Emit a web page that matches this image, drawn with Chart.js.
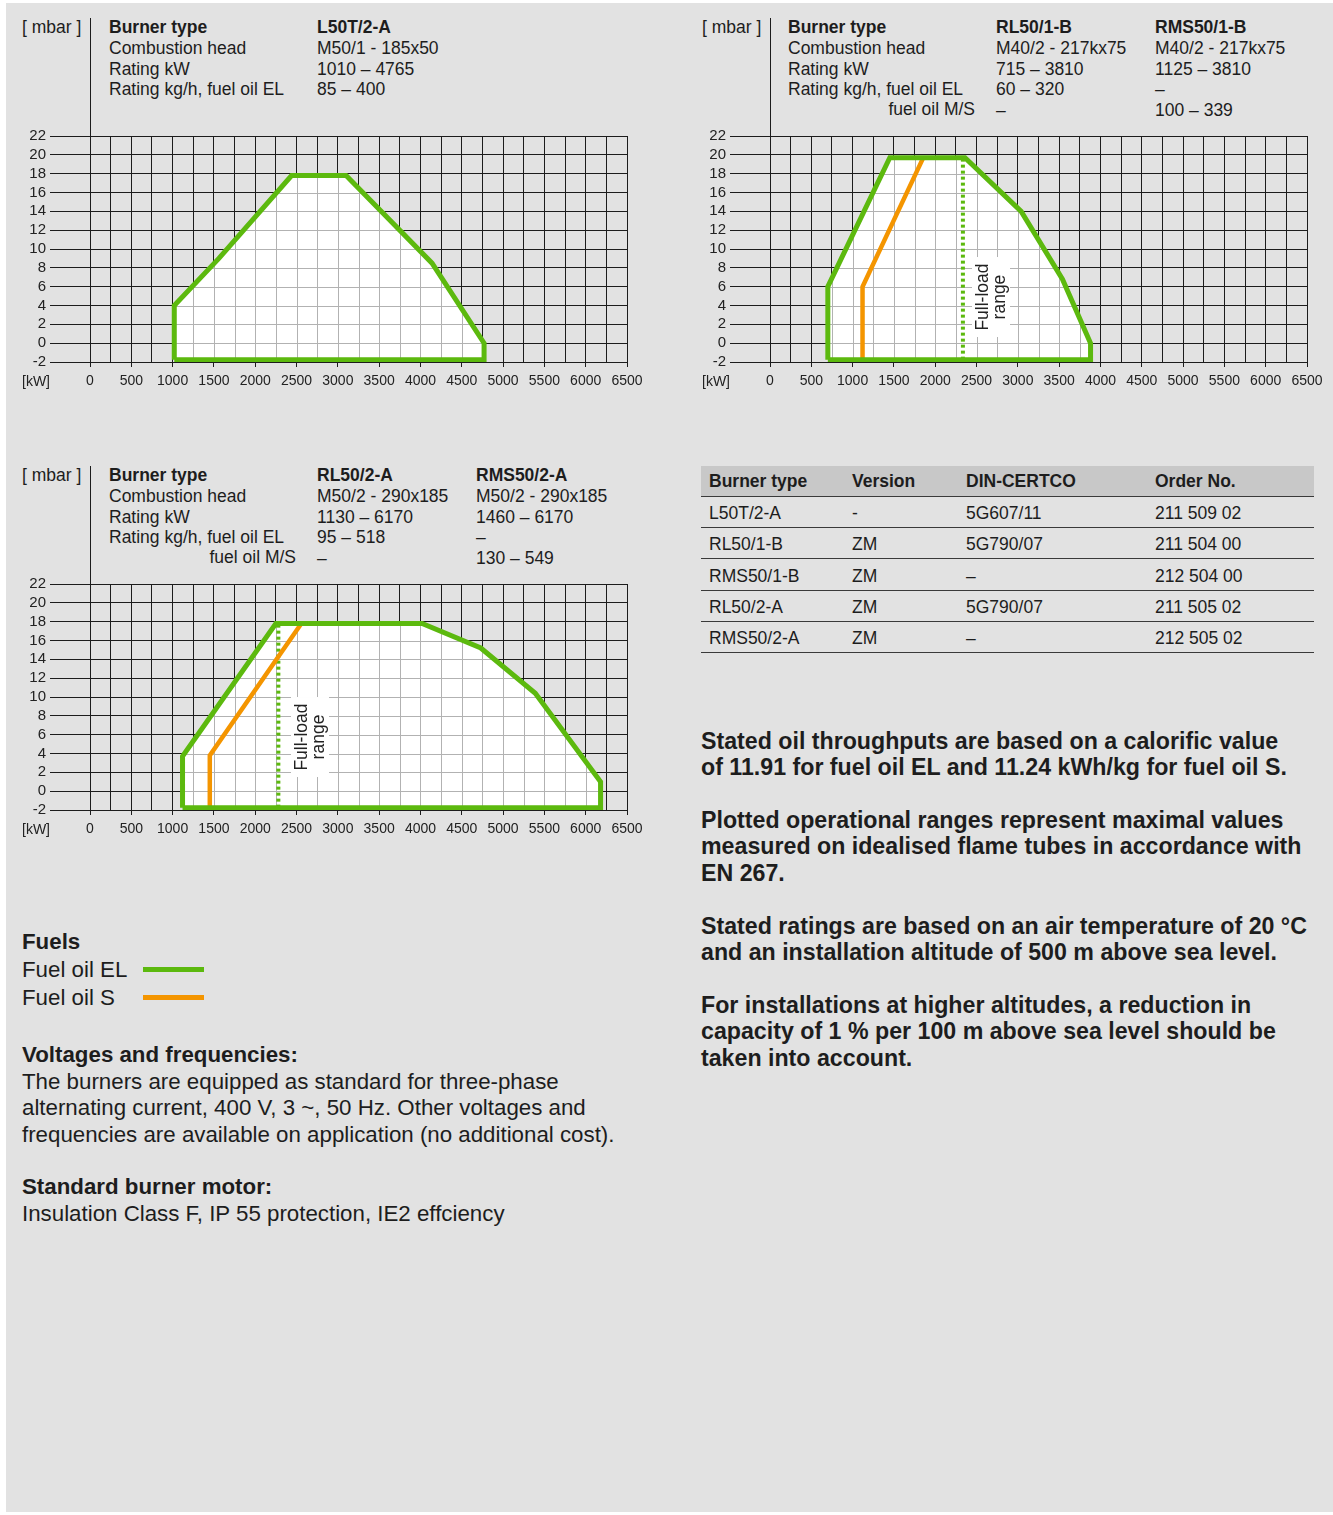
<!DOCTYPE html>
<html>
<head>
<meta charset="utf-8">
<title>Burner working fields</title>
<script src="https://cdn.jsdelivr.net/npm/chart.js@4.4.1/dist/chart.umd.min.js"></script>
<style>
body { margin:0; background:#fff; font-family:"Liberation Sans", Arial, sans-serif; color:#1d1d1d; }
#page { position:absolute; left:6px; top:3px; width:1327px; height:1509px; background:#e2e2e2; }
.abs { position:absolute; white-space:nowrap; }
.hd { font-size:17.5px; line-height:20.8px; }
.b { font-weight:bold; }
.r { text-align:right; }
canvas { position:absolute; }
#tbl { position:absolute; left:701px; top:466px; width:613px; font-size:17.5px; }
#tbl .row { position:relative; height:30.4px; border-bottom:1px solid #3a3a3a; }
#tbl .head { background:#c8c8c8; height:29.5px; border-bottom:1.5px solid #3a3a3a; font-weight:bold; }
#tbl span { position:absolute; top:54%; transform:translateY(-50%); }
#tbl .head span { top:50%; }
.big { font-size:22.3px; line-height:26.5px; }
.note { font-size:23.2px; line-height:26.3px; font-weight:bold; }
</style>
</head>
<body>
<div id="page"></div>

<!-- header L50T/2-A -->
<div class="abs hd" style="left:22px;top:17px">[ mbar ]</div>
<div class="abs hd" style="left:109px;top:17px"><span class="b">Burner type</span><br>Combustion head<br>Rating kW<br>Rating kg/h, fuel oil EL</div>
<div class="abs hd" style="left:317px;top:17px"><span class="b">L50T/2-A</span><br>M50/1 - 185x50<br>1010 – 4765<br>85 – 400</div>

<!-- header RL50/1-B -->
<div class="abs hd" style="left:702px;top:17px">[ mbar ]</div>
<div class="abs hd" style="left:788px;top:17px"><span class="b">Burner type</span><br>Combustion head<br>Rating kW<br>Rating kg/h, fuel oil EL</div>
<div class="abs hd r" style="left:788px;width:187px;top:99px">fuel oil M/S</div>
<div class="abs hd" style="left:996px;top:17px"><span class="b">RL50/1-B</span><br>M40/2 - 217kx75<br>715 – 3810<br>60 – 320<br>–</div>
<div class="abs hd" style="left:1155px;top:17px"><span class="b">RMS50/1-B</span><br>M40/2 - 217kx75<br>1125 – 3810<br>–<br>100 – 339</div>

<!-- header RL50/2-A -->
<div class="abs hd" style="left:22px;top:465px">[ mbar ]</div>
<div class="abs hd" style="left:109px;top:465px"><span class="b">Burner type</span><br>Combustion head<br>Rating kW<br>Rating kg/h, fuel oil EL</div>
<div class="abs hd r" style="left:109px;width:187px;top:547px">fuel oil M/S</div>
<div class="abs hd" style="left:317px;top:465px"><span class="b">RL50/2-A</span><br>M50/2 - 290x185<br>1130 – 6170<br>95 – 518<br>–</div>
<div class="abs hd" style="left:476px;top:465px"><span class="b">RMS50/2-A</span><br>M50/2 - 290x185<br>1460 – 6170<br>–<br>130 – 549</div>

<canvas id="c1" width="660" height="392" style="left:0;top:10px"></canvas>
<canvas id="c2" width="653" height="392" style="left:680px;top:10px"></canvas>
<canvas id="c3" width="660" height="392" style="left:0;top:458px"></canvas>

<div class="abs hd" style="left:22px;top:371px;font-size:14px;color:#222">[kW]</div>
<div class="abs hd" style="left:702px;top:371px;font-size:14px;color:#222">[kW]</div>
<div class="abs hd" style="left:22px;top:819px;font-size:14px;color:#222">[kW]</div>

<div id="tbl">
  <div class="row head"><span style="left:8px">Burner type</span><span style="left:151px">Version</span><span style="left:265px">DIN-CERTCO</span><span style="left:454px">Order No.</span></div>
  <div class="row"><span style="left:8px">L50T/2-A</span><span style="left:151px">-</span><span style="left:265px">5G607/11</span><span style="left:454px">211 509 02</span></div>
  <div class="row"><span style="left:8px">RL50/1-B</span><span style="left:151px">ZM</span><span style="left:265px">5G790/07</span><span style="left:454px">211 504 00</span></div>
  <div class="row"><span style="left:8px">RMS50/1-B</span><span style="left:151px">ZM</span><span style="left:265px">–</span><span style="left:454px">212 504 00</span></div>
  <div class="row"><span style="left:8px">RL50/2-A</span><span style="left:151px">ZM</span><span style="left:265px">5G790/07</span><span style="left:454px">211 505 02</span></div>
  <div class="row"><span style="left:8px">RMS50/2-A</span><span style="left:151px">ZM</span><span style="left:265px">–</span><span style="left:454px">212 505 02</span></div>
</div>

<div class="abs note" style="left:701px;top:728px">Stated oil throughputs are based on a calorific value<br>of 11.91 for fuel oil EL and 11.24 kWh/kg for fuel oil S.</div>
<div class="abs note" style="left:701px;top:807px">Plotted operational ranges represent maximal values<br>measured on idealised flame tubes in accordance with<br>EN 267.</div>
<div class="abs note" style="left:701px;top:913px">Stated ratings are based on an air temperature of 20 °C<br>and an installation altitude of 500 m above sea level.</div>
<div class="abs note" style="left:701px;top:992px">For installations at higher altitudes, a reduction in<br>capacity of 1 % per 100 m above sea level should be<br>taken into account.</div>

<div class="abs big" style="left:22px;top:928px;line-height:28px"><span class="b">Fuels</span><br>Fuel oil EL<br>Fuel oil S</div>
<div class="abs" style="left:143px;top:967px;width:61px;height:5px;background:#5cb90e"></div>
<div class="abs" style="left:143px;top:995px;width:61px;height:5px;background:#f49500"></div>

<div class="abs big" style="left:22px;top:1042px"><span class="b">Voltages and frequencies:</span><br>The burners are equipped as standard for three-phase<br>alternating current, 400 V, 3 ~, 50 Hz. Other voltages and<br>frequencies are available on application (no additional cost).</div>
<div class="abs big" style="left:22px;top:1174px"><span class="b">Standard burner motor:</span><br>Insulation Class F, IP 55 protection, IE2 effciency</div>

<script>
var GREEN = '#5cb90e';
var ORANGE = '#f49500';
var GRID = '#1c1c1c';
var GRID_INSIDE = '#b2b2b2';

var kwMin = 0, kwMax = 6500, kwStep = 250, kwLabelStep = 500;
var mbarMin = -2, mbarMax = 22, mbarStep = 2;

// L50T/2-A, fuel oil EL
var l50tKw   = [1020, 1020, 1560, 2440, 3100, 4140, 4770, 4770, 1020];
var l50tMbar = [-1.75, 4, 9, 17.8, 17.8, 8.5, 0, -1.75, -1.75];

// RL50/1-B (EL) and RMS50/1-B (S)
var rl501Kw   = [700, 700, 1450, 2360, 3040, 3540, 3880, 3880, 700];
var rl501Mbar = [-1.75, 6, 19.7, 19.7, 14, 6.8, 0, -1.75, -1.75];
var rms501Kw   = [1120, 1120, 1850];
var rms501Mbar = [-1.75, 6, 19.6];
var full501Kw   = [2335, 2335];
var full501Mbar = [-1.75, 19.7];

// RL50/2-A (EL) and RMS50/2-A (S)
var rl502Kw   = [1120, 1120, 2250, 4020, 4730, 5390, 6180, 6180, 1120];
var rl502Mbar = [-1.75, 3.7, 17.8, 17.8, 15.2, 10.4, 1.0, -1.75, -1.75];
var rms502Kw   = [1450, 1450, 2550];
var rms502Mbar = [-1.75, 3.8, 17.7];
var full502Kw   = [2280, 2280];
var full502Mbar = [-1.75, 17.8];

function pts(xs, ys) {
  return xs.map(function (x, i) { return {x: x, y: ys[i]}; });
}

// white inside the working field, grid shows through in light grey
var shapeFill = {
  id: 'shapeFill',
  beforeDatasetsDraw: function (chart) {
    var ctx = chart.ctx, xs = chart.scales.x, ys = chart.scales.y;
    chart.data.datasets.forEach(function (ds, i) {
      if (!ds.shapeFill) return;
      var els = chart.getDatasetMeta(i).data;
      ctx.save();
      ctx.beginPath();
      els.forEach(function (p, j) { if (j) ctx.lineTo(p.x, p.y); else ctx.moveTo(p.x, p.y); });
      ctx.closePath();
      ctx.fillStyle = ds.shapeFill;
      ctx.fill();
      ctx.clip();
      ctx.strokeStyle = GRID_INSIDE;
      ctx.lineWidth = 1;
      ctx.beginPath();
      xs.ticks.forEach(function (t) {
        var x = Math.round(xs.getPixelForValue(t.value)) + 0.5;
        ctx.moveTo(x, ys.top); ctx.lineTo(x, ys.bottom);
      });
      ys.ticks.forEach(function (t) {
        var y = Math.round(ys.getPixelForValue(t.value)) + 0.5;
        ctx.moveTo(xs.left, y); ctx.lineTo(xs.right, y);
      });
      ctx.stroke();
      ctx.restore();
    });
  }
};

// y axis line runs up into the header block
var axisUp = {
  id: 'axisUp',
  afterDraw: function (chart) {
    var ctx = chart.ctx;
    var x = Math.round(chart.scales.x.getPixelForValue(0)) + 0.5;
    ctx.save();
    ctx.strokeStyle = GRID;
    ctx.lineWidth = 1;
    ctx.beginPath();
    ctx.moveTo(x, 8);
    ctx.lineTo(x, chart.chartArea.top);
    ctx.stroke();
    ctx.restore();
  }
};

var fullLoad = {
  id: 'fullLoad',
  afterDatasetsDraw: function (chart, args, opts) {
    if (!opts.show) return;
    var ctx = chart.ctx;
    var cx = chart.scales.x.getPixelForValue(opts.x);
    var cy = chart.scales.y.getPixelForValue(opts.y);
    ctx.save();
    ctx.translate(cx, cy);
    ctx.rotate(-Math.PI / 2);
    ctx.fillStyle = '#fff';
    ctx.fillRect(-40, -19, 80, 38);
    ctx.fillStyle = '#222';
    ctx.font = '17.5px "Liberation Sans", Arial, sans-serif';
    ctx.textAlign = 'center';
    ctx.textBaseline = 'middle';
    ctx.fillText('Full-load', 0, -8);
    ctx.fillText('range', 0, 9);
    ctx.restore();
  }
};

function lineSet(data, color, width, dash) {
  return {
    data: data, showLine: true, borderColor: color, borderWidth: width,
    borderDash: dash || [], pointRadius: 0, fill: false, tension: 0,
    borderJoinStyle: 'miter', borderCapStyle: 'butt'
  };
}

function makeChart(id, datasets, label) {
  var xFont = {family: '"Liberation Sans", Arial, sans-serif', size: 14};
  var yFont = {family: '"Liberation Sans", Arial, sans-serif', size: 15};
  return new Chart(document.getElementById(id), {
    type: 'scatter',
    data: {datasets: datasets},
    plugins: [shapeFill, axisUp, fullLoad],
    options: {
      responsive: false,
      animation: false,
      layout: {padding: {top: 126, right: document.getElementById(id).width - 627, left: 0, bottom: 0}},
      plugins: {
        legend: {display: false},
        tooltip: {enabled: false},
        fullLoad: label || {show: false}
      },
      scales: {
        x: {
          type: 'linear', min: kwMin, max: kwMax,
          afterFit: function (s) { s.height = 40; },
          ticks: {
            stepSize: kwStep, autoSkip: false, maxRotation: 0, minRotation: 0,
            padding: 6, color: '#222', font: xFont,
            callback: function (v) { return v % kwLabelStep === 0 ? String(v) : ''; }
          },
          grid: {
            color: GRID, lineWidth: 1, tickLength: 5,
            tickColor: function (c) { return c.tick && c.tick.value % kwLabelStep === 0 ? GRID : 'rgba(0,0,0,0)'; }
          },
          border: {color: GRID}
        },
        y: {
          type: 'linear', min: mbarMin, max: mbarMax,
          afterFit: function (s) { s.width = 90; },
          ticks: {
            stepSize: mbarStep, autoSkip: false, padding: 4, color: '#222', font: yFont,
            callback: function (v) { return String(v); }
          },
          grid: {color: GRID, lineWidth: 1, tickLength: 40},
          border: {color: GRID}
        }
      }
    }
  });
}

var field1 = lineSet(pts(l50tKw, l50tMbar), GREEN, 5);
field1.shapeFill = '#ffffff';
makeChart('c1', [field1]);

var field2 = lineSet(pts(rl501Kw, rl501Mbar), GREEN, 5);
field2.shapeFill = '#ffffff';
makeChart('c2', [
  field2,
  lineSet(pts(rms501Kw, rms501Mbar), ORANGE, 4.5),
  lineSet(pts(full501Kw, full501Mbar), GREEN, 4, [3, 3])
], {show: true, x: 2675, y: 4.9});

var field3 = lineSet(pts(rl502Kw, rl502Mbar), GREEN, 5);
field3.shapeFill = '#ffffff';
makeChart('c3', [
  field3,
  lineSet(pts(rms502Kw, rms502Mbar), ORANGE, 4.5),
  lineSet(pts(full502Kw, full502Mbar), GREEN, 4, [3, 3])
], {show: true, x: 2663, y: 5.75});
</script>
</body>
</html>
